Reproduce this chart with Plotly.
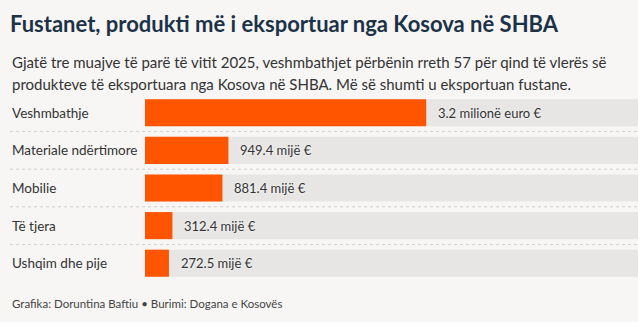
import plotly.graph_objects as go

categories = ["Veshmbathje", "Materiale ndërtimore", "Mobilie", "Të tjera", "Ushqim dhe pije"]
values_mil = [3.2, 0.9494, 0.8814, 0.3124, 0.2725]
value_labels = ["3.2 milionë euro €", "949.4 mijë €", "881.4 mijë €", "312.4 mijë €", "272.5 mijë €"]
track_max = 5.61

title = "Fustanet, produkti më i eksportuar nga Kosova në SHBA"
subtitle_lines = [
    "Gjatë tre muajve të parë të vitit 2025, veshmbathjet përbënin rreth 57 për qind të vlerës së",
    "produkteve të eksportuara nga Kosova në SHBA. Më së shumti u eksportuan fustane.",
]
footer = "Grafika: Doruntina Baftiu • Burimi: Dogana e Kosovës"

W, H = 640, 327
ML, MR, MT, MB = 145, 2, 94, 45
PW = W - ML - MR
PH = H - MT - MB

FONT = "Lato"
BG = "#f7f6f4"
ORANGE = "#ff5500"
TRACK = "#e7e6e4"
DARK = "#1c3248"
TXT = "#333333"


def px_x(px):
    return (px - ML) / PW


def px_y(py):
    return (H - MB - py) / PH


fig = go.Figure()
fig.add_trace(go.Bar(
    y=categories, x=[track_max] * len(categories), orientation="h",
    marker=dict(color=TRACK, line=dict(width=0)), width=0.72, hoverinfo="skip",
))
fig.add_trace(go.Bar(
    y=categories, x=values_mil, orientation="h",
    marker=dict(color=ORANGE, line=dict(width=0)), width=0.72,
))

annotations = []
for cat, v, lab in zip(categories, values_mil, value_labels):
    annotations.append(dict(
        x=v, y=cat, xref="x", yref="y", text=lab, showarrow=False,
        xanchor="left", xshift=10, yanchor="middle",
        font=dict(family=FONT, size=13, color=TXT, shadow="0px 0px 3px #ffffff"),
    ))
    annotations.append(dict(
        x=px_x(10), y=cat, xref="paper", yref="y", text=cat, showarrow=False,
        xanchor="left", yanchor="middle",
        font=dict(family=FONT, size=13.5, color=TXT),
    ))

for i, line in enumerate(subtitle_lines):
    annotations.append(dict(
        x=px_x(10), y=px_y(62 + i * 22), xref="paper", yref="paper", text=line,
        showarrow=False, xanchor="left", yanchor="middle",
        font=dict(family=FONT, size=15, color=TXT),
    ))
annotations.append(dict(
    x=px_x(10), y=px_y(303), xref="paper", yref="paper", text=footer,
    showarrow=False, xanchor="left", yanchor="middle",
    font=dict(family=FONT, size=11.5, color="#444444"),
))

shapes = [dict(type="rect", xref="paper", yref="paper", x0=px_x(0), x1=px_x(638),
               y0=px_y(322), y1=px_y(0), fillcolor=BG, line=dict(width=0), layer="below")]
for i in range(len(categories) - 1):
    shapes.append(dict(type="line", xref="paper", yref="y", x0=px_x(10), x1=px_x(638),
                       y0=i + 0.5, y1=i + 0.5, line=dict(color="#cfcfcf", width=1, dash="dot"),
                       layer="below"))

fig.update_layout(
    width=W, height=H,
    margin=dict(l=ML, r=MR, t=MT, b=MB, pad=0),
    paper_bgcolor="#ffffff", plot_bgcolor="rgba(0,0,0,0)",
    barmode="overlay", showlegend=False,
    title=dict(text=f"<b>{title}</b>", x=10 / W, xanchor="left", xref="container",
               y=1 - 24 / H, yanchor="middle", yref="container",
               font=dict(family=FONT, size=22, color=DARK, weight=900)),
    xaxis=dict(range=[0, track_max], visible=False, fixedrange=True),
    yaxis=dict(categoryorder="array", categoryarray=categories[::-1],
               range=[-0.5, len(categories) - 0.5], visible=False, fixedrange=True),
    annotations=annotations, shapes=shapes,
)

fig.write_html("out.html", config={"displayModeBar": False})
